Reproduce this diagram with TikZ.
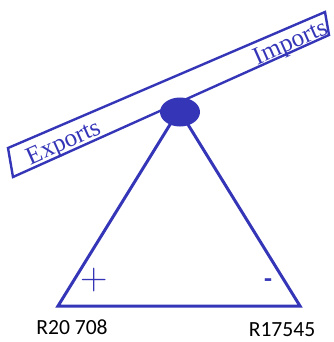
\documentclass[tikz,border=0pt]{standalone}
\usepackage{fontspec}
\usetikzlibrary{shapes.geometric}
\newfontfamily\labelfont{Carlito}
\newfontfamily\plankfont{Liberation Serif}
\definecolor{seesawcol}{HTML}{3535B8}
\tikzset{
  leg/.style={draw=seesawcol, line width=1.5pt, line join=miter},
  plank/.style={draw=seesawcol, line width=1.2pt},
  pivot/.style={ellipse, fill=seesawcol, minimum width=20pt, minimum height=14.5pt, inner sep=0pt},
  plankword/.style={text=seesawcol, font=\plankfont\fontsize{12.6}{13}\selectfont, rotate=24, inner sep=0pt},
  sign/.style={text=seesawcol, inner sep=0pt},
  amount/.style={font=\labelfont\fontsize{10.8}{12}\selectfont, inner sep=0pt},
}
\begin{document}
\begin{tikzpicture}[x=0.5pt, y=-0.5pt]
  \useasboundingbox (0,0) rectangle (333,342);
  % -- triangle (fulcrum) --------------------------------------------
  \coordinate (top) at (179,110);
  \coordinate (bl) at (58,306);
  \coordinate (br) at (300,306);
  \draw[leg] (top) -- (bl) -- (br) -- cycle;
  % -- plank ---------------------------------------------------------
  \coordinate (pTL) at (8,148);
  \coordinate (pBL) at (13,177);
  \coordinate (pBR) at (329,35);
  \coordinate (pTR) at (325,12);
  \draw[plank] (pTL) -- (pBL) -- (pBR) -- (pTR) -- cycle;
  \node[plankword] (exp) at (64,144) {Exports};
  \node[plankword] (imp) at (291,44) {Imports};
  % -- pivot ---------------------------------------------------------
  \node[pivot] (pivot) at (180,112) {};
  % -- signs and amounts ---------------------------------------------
  \node[sign, font=\fontsize{19}{19}\selectfont] (plus) at (94,280) {+};
  \node[sign, font=\labelfont\bfseries\fontsize{13}{13}\selectfont] (minus) at (268,283) {-};
  \node[amount] (lamt) at (72,327) {R20 708};
  \node[amount] (ramt) at (282,330) {R17545};
\end{tikzpicture}
\end{document}
